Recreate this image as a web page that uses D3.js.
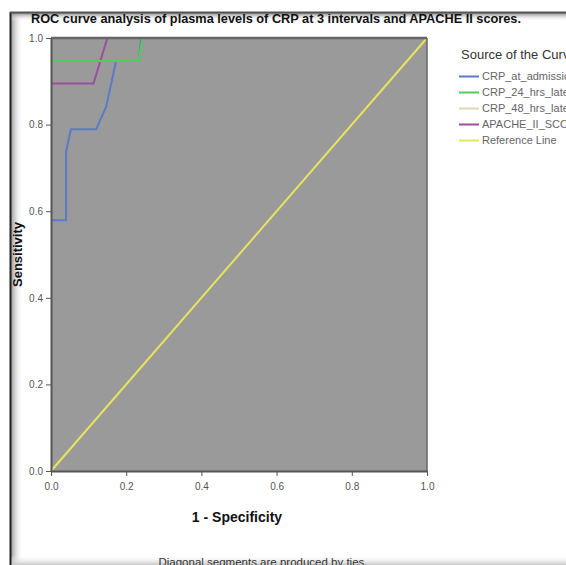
<!DOCTYPE html>
<html>
<head>
<meta charset="utf-8">
<script src="https://cdnjs.cloudflare.com/ajax/libs/d3/7.8.5/d3.min.js"></script>
<style>
  body { margin: 0; background: #fff; }
  svg { display: block; }
</style>
</head>
<body>
<div id="chart"></div>
<script>
// ROC data (x = 1 - specificity, y = sensitivity)
const seriesNames = ["CRP_at_admission", "CRP_24_hrs_later", "CRP_48_hrs_later", "APACHE_II_SCORE", "Reference Line"];
const seriesColors = ["#5b7bc9", "#4fcf5a", "#ddd9b0", "#9b4f9c", "#e6e45c"];

const crpAdmissionX = [0, 0.04, 0.04, 0.053, 0.12, 0.147, 0.173, 0.233, 0.24, 1];
const crpAdmissionY = [0.579, 0.579, 0.737, 0.789, 0.789, 0.842, 0.947, 0.947, 1, 1];

const crp24X = [0, 0.233, 0.243, 1];
const crp24Y = [0.947, 0.947, 1, 1];

const crp48X = [0, 1];
const crp48Y = [1, 1];

const apacheX = [0, 0.113, 0.15, 1];
const apacheY = [0.895, 0.895, 1, 1];

const refX = [0, 1];
const refY = [0, 1];

const ticks = [0, 0.2, 0.4, 0.6, 0.8, 1.0];

const W = 566, H = 565;
const margin = { left: 51, top: 38, right: 139, bottom: 94 };
const plotW = W - margin.left - margin.right,
  plotH = H - margin.top - margin.bottom;

const svg = d3.select("#chart").append("svg")
  .attr("width", W)
  .attr("height", H);

// framed panel with inner shadow
const defs = svg.append("defs");
const gl = defs.append("linearGradient").attr("id", "shL").attr("x1", 0).attr("x2", 1);
gl.append("stop").attr("offset", 0).attr("stop-color", "#9a9a9a");
gl.append("stop").attr("offset", 1).attr("stop-color", "#fff").attr("stop-opacity", 0);
const gt = defs.append("linearGradient").attr("id", "shT").attr("x1", 0).attr("x2", 0).attr("y1", 0).attr("y2", 1);
gt.append("stop").attr("offset", 0).attr("stop-color", "#8a8a8a");
gt.append("stop").attr("offset", 1).attr("stop-color", "#fff").attr("stop-opacity", 0);
const gb = defs.append("linearGradient").attr("id", "shB").attr("x1", 0).attr("x2", 0).attr("y1", 0).attr("y2", 1);
gb.append("stop").attr("offset", 0).attr("stop-color", "#fff").attr("stop-opacity", 0);
gb.append("stop").attr("offset", 1).attr("stop-color", "#c8c8c8");

svg.append("rect").attr("x", 11).attr("y", 13).attr("width", 12).attr("height", H - 13).attr("fill", "url(#shL)");
svg.append("rect").attr("x", 11).attr("y", 13).attr("width", W - 11).attr("height", 8).attr("fill", "url(#shT)");
svg.append("rect").attr("x", 11).attr("y", H - 10).attr("width", W - 11).attr("height", 10).attr("fill", "url(#shB)");
svg.append("line").attr("x1", 10.5).attr("x2", 10.5).attr("y1", 12).attr("y2", H).attr("stroke", "#222").attr("stroke-width", 2);
svg.append("line").attr("x1", 10).attr("x2", W).attr("y1", 12.5).attr("y2", 12.5).attr("stroke", "#555").attr("stroke-width", 2);

// title
svg.append("text")
  .attr("x", 31).attr("y", 23)
  .attr("font-family", "Liberation Sans Narrow, Arial Narrow, sans-serif")
  .attr("font-weight", "bold")
  .attr("font-size", 13.5)
  .attr("textLength", 490)
  .attr("lengthAdjust", "spacingAndGlyphs")
  .attr("fill", "#111")
  .text("ROC curve analysis of plasma levels of CRP at 3 intervals and APACHE II scores.");

const x = d3.scaleLinear().domain([0, 1]).range([0, plotW]);
const y = d3.scaleLinear().domain([0, 1]).range([plotH, 0]);

const g = svg.append("g").attr("transform", `translate(${margin.left},${margin.top})`);

g.append("rect")
  .attr("width", plotW).attr("height", plotH)
  .attr("fill", "#9a9a9a");

const allX = [crpAdmissionX, crp24X, crp48X, apacheX, refX];
const allY = [crpAdmissionY, crp24Y, crp48Y, apacheY, refY];
const line = d3.line().x(d => x(d[0])).y(d => y(d[1]));
const drawOrder = [4, 2, 3, 0, 1];
drawOrder.forEach(i => {
  const pts = allX[i].map((v, k) => [v, allY[i][k]]);
  g.append("path")
    .attr("d", line(pts))
    .attr("fill", "none")
    .attr("stroke", seriesColors[i])
    .attr("stroke-width", 2);
});

// top/right frame of the plot (drawn over the curves, like the original)
g.append("line").attr("x1", 0).attr("x2", plotW).attr("y1", 0).attr("y2", 0).attr("stroke", "#666").attr("stroke-width", 2.5);
g.append("line").attr("x1", plotW).attr("x2", plotW).attr("y1", 0).attr("y2", plotH).attr("stroke", "#666").attr("stroke-width", 1.5);

const xAxis = g.append("g").attr("transform", `translate(0,${plotH})`)
  .call(d3.axisBottom(x).tickValues(ticks).tickFormat(d3.format(".1f")).tickSize(5).tickSizeOuter(0));
const yAxis = g.append("g")
  .call(d3.axisLeft(y).tickValues(ticks).tickFormat(d3.format(".1f")).tickSize(5).tickSizeOuter(0));
[xAxis, yAxis].forEach(a => {
  a.select(".domain").attr("stroke", "#555").attr("stroke-width", 2);
  a.selectAll(".tick line").attr("stroke", "#555");
  a.selectAll(".tick text").attr("fill", "#555").attr("font-family", "Liberation Sans, Arial, sans-serif").attr("font-size", 10);
});
xAxis.selectAll(".tick text").attr("dy", "1.1em");

// axis titles
svg.append("text")
  .attr("x", margin.left + plotW / 2 - 2).attr("y", 522)
  .attr("text-anchor", "middle")
  .attr("font-family", "Liberation Sans, Arial, sans-serif")
  .attr("font-weight", "bold").attr("font-size", 14)
  .attr("fill", "#111")
  .text("1 - Specificity");
svg.append("text")
  .attr("transform", `translate(22,${margin.top + plotH / 2}) rotate(-90)`)
  .attr("text-anchor", "middle")
  .attr("font-family", "Liberation Sans, Arial, sans-serif")
  .attr("font-weight", "bold").attr("font-size", 13)
  .attr("fill", "#111")
  .text("Sensitivity");

// legend
const lg = svg.append("g").attr("transform", "translate(459,0)");
lg.append("text")
  .attr("x", 2).attr("y", 59)
  .attr("font-family", "Liberation Sans Narrow, Arial Narrow, sans-serif")
  .attr("font-size", 13).attr("fill", "#333")
  .text("Source of the Curve");
seriesNames.forEach((n, i) => {
  const yy = 76.5 + i * 16;
  lg.append("line").attr("x1", 0).attr("x2", 20).attr("y1", yy).attr("y2", yy)
    .attr("stroke", seriesColors[i]).attr("stroke-width", 2);
  lg.append("text")
    .attr("x", 23).attr("y", yy + 3.5)
    .attr("font-family", "Liberation Sans Narrow, Arial Narrow, sans-serif")
    .attr("font-size", 11).attr("fill", "#666")
    .text(n);
});

// footnote
svg.append("text")
  .attr("x", 263).attr("y", 566)
  .attr("text-anchor", "middle")
  .attr("font-family", "Liberation Sans, Arial, sans-serif")
  .attr("font-size", 11.5).attr("fill", "#333")
  .text("Diagonal segments are produced by ties.");
</script>
</body>
</html>
